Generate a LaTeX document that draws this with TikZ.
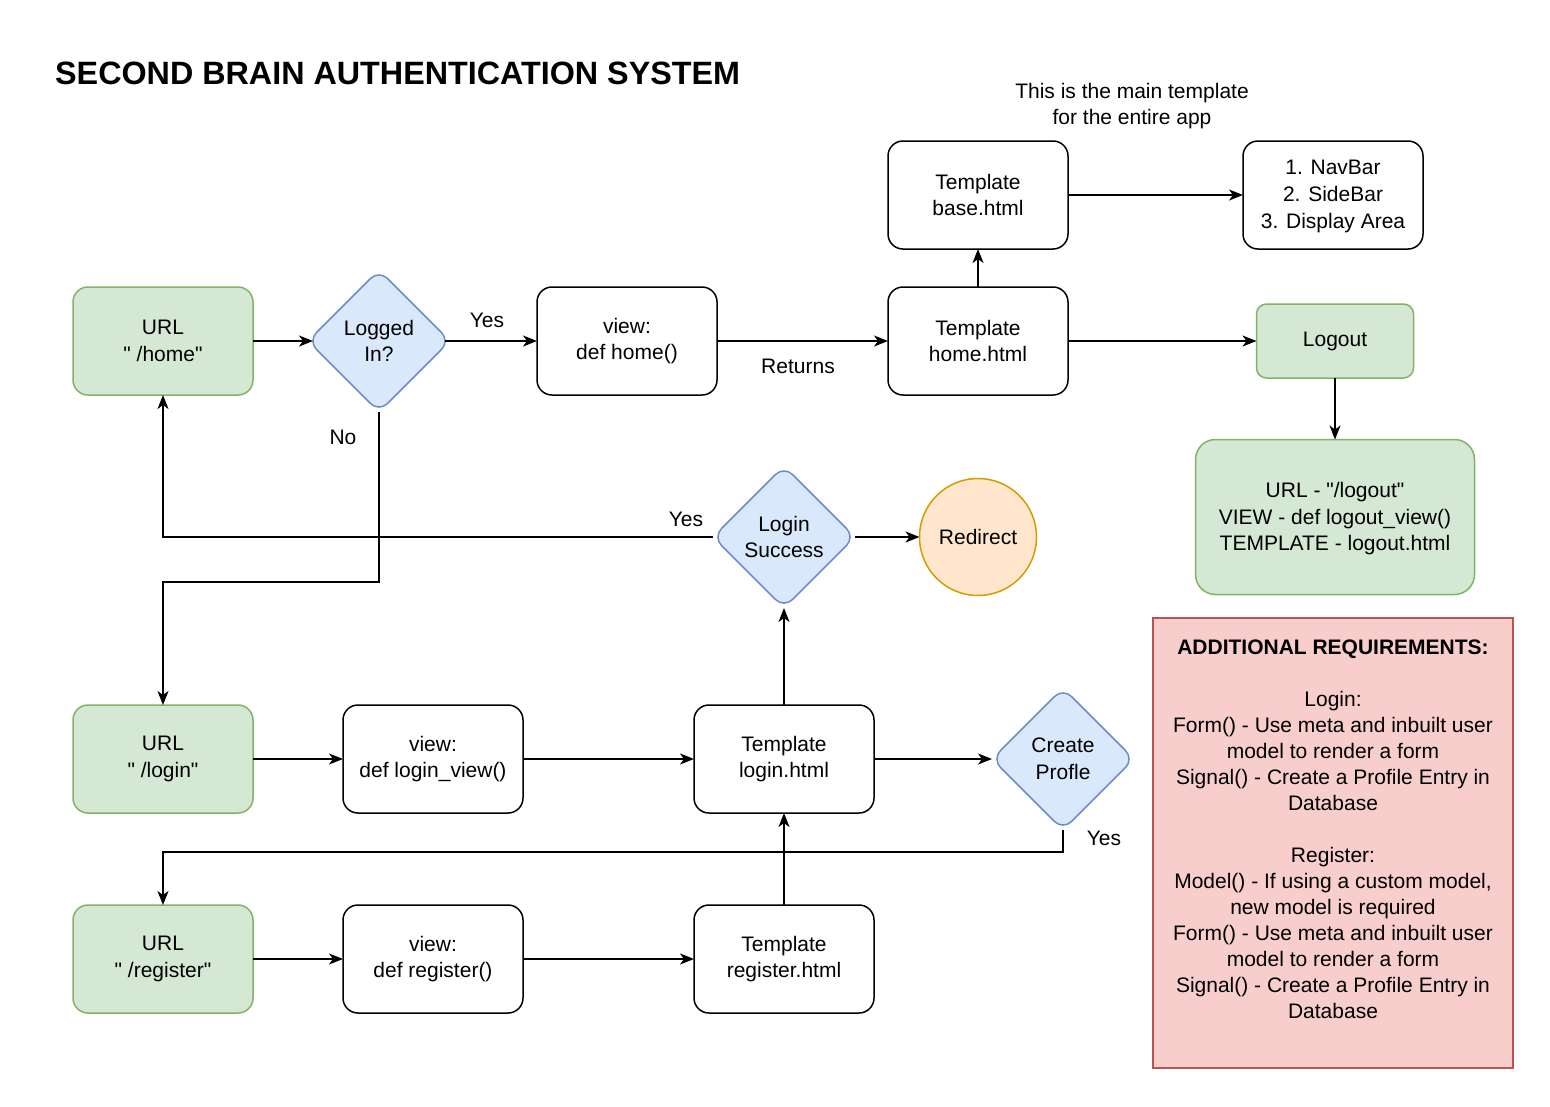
\documentclass[tikz,border=0pt]{standalone}
\usepackage{fontspec}
\setmainfont{Liberation Sans}[Ligatures=TeXOff]
\usetikzlibrary{shapes.geometric,arrows.meta}
\definecolor{gfill}{HTML}{D5E8D4}
\definecolor{gstroke}{HTML}{82B366}
\definecolor{bfill}{HTML}{DAE8FC}
\definecolor{bstroke}{HTML}{6C8EBF}
\definecolor{ofill}{HTML}{FFE6CC}
\definecolor{ostroke}{HTML}{D79B00}
\definecolor{rfill}{HTML}{F8CECC}
\definecolor{rstroke}{HTML}{B85450}
\begin{document}
\begin{tikzpicture}[x=1pt,y=-1pt,
  font=\fontsize{21}{26.5}\selectfont,
  box/.style={draw, rounded corners=15pt, line width=1.5pt, minimum width=180pt, minimum height=108pt, align=center, inner sep=0pt, outer sep=0pt},
  urlbox/.style={box, fill=gfill, draw=gstroke},
  dec/.style={diamond, aspect=1, draw=bstroke, fill=bfill, line width=1.5pt, rounded corners=12pt, minimum width=142pt, minimum height=142pt, inner sep=0pt, outer sep=0pt, align=center},
  arr/.style={line width=1.5pt, -{Stealth[length=14pt,width=11pt,inset=4pt]}},
  ln/.style={line width=1.5pt},
  lbl/.style={inner sep=0pt, align=center}]
\fill[white] (0,0) rectangle (1550,1106);
\useasboundingbox (0,0) rectangle (1550,1106);

\node[anchor=base west, inner sep=0pt, font=\fontsize{32.3}{38}\selectfont\bfseries] (title) at (55,84) {SECOND BRAIN AUTHENTICATION SYSTEM};

% top row
\node[urlbox] (urlhome) at (163,341) {URL\\" /home"};
\node[dec] (logged) at (379,341) {Logged\\In?};
\node[box] (viewhome) at (627,341) {view:\\def home()};
\node[box] (thome) at (978,341) {Template\\home.html};
\node[box] (tbase) at (978,195) {Template\\base.html};
\node[box] (nav) at (1333,195) {};
\node[lbl, font=\fontsize{21}{27}\selectfont] (navtext) at (1333,196) {1. NavBar\\2. SideBar\\3. Display Area};
\node[lbl] (note) at (1132,106) {This is the main template\\for the entire app};
\node[box, fill=gfill, draw=gstroke, minimum width=157pt, minimum height=74pt, rounded corners=10pt] (logout) at (1335,341) {Logout};
\node[box, fill=gfill, draw=gstroke, minimum width=279pt, minimum height=155pt, rounded corners=20pt] (urllogout) at (1335,517) {};
\node[lbl] (urllogouttext) at (1335,519) {URL - "/logout"\\VIEW - def logout\_view()\\TEMPLATE - logout.html};

% middle
\node[dec] (ls) at (784,537) {Login\\Success};
\node[circle, draw=ostroke, fill=ofill, line width=1.5pt, minimum size=117pt, inner sep=0pt, outer sep=0pt] (redirect) at (978,537) {Redirect};

\node[urlbox] (urllogin) at (163,759) {URL\\" /login"};
\node[box] (viewlogin) at (433,759) {view:\\def login\_view()};
\node[box] (tlogin) at (784,759) {Template\\login.html};
\node[dec] (cp) at (1063,759) {Create\\Profle};

\node[urlbox] (urlreg) at (163,959) {URL\\" /register"};
\node[box] (viewreg) at (433,959) {view:\\def register()};
\node[box] (treg) at (784,959) {Template\\register.html};

% requirements
\node[draw=rstroke, fill=rfill, line width=1.5pt, minimum width=360pt, minimum height=450pt, inner sep=0pt] (req) at (1333,843) {};
\node[lbl, font=\fontsize{21}{26}\selectfont] (reqtext) at (1333,829) {\textbf{ADDITIONAL REQUIREMENTS:}\\[26pt]Login:\\Form() - Use meta and inbuilt user\\model to render a form\\Signal() - Create a Profile Entry in\\Database\\[26pt]Register:\\Model() - If using a custom model,\\new model is required\\Form() - Use meta and inbuilt user\\model to render a form\\Signal() - Create a Profile Entry in\\Database};

% connectors
\draw[arr] (urlhome.east) -- ([xshift=5pt]logged.west);
\draw[arr] ([xshift=-5pt]logged.east) -- (viewhome.west);
\node[lbl] (yes1) at (487,320) {Yes};
\draw[arr] (viewhome.east) -- (thome.west);
\node[lbl] (returns) at (798,366) {Returns};
\draw[arr] (thome.north) -- (tbase.south);
\draw[arr] (tbase.east) -- (nav.west);
\draw[arr] (thome.east) -- (logout.west);
\draw[arr] (logout.south) -- (urllogout.north);

\draw[arr] (logged.south) -- ++(0,170) -| (urllogin.north);
\node[lbl] (no) at (343,437) {No};
\draw[arr] (ls.west) -| (urlhome.south);
\node[lbl] (yes2) at (686,519) {Yes};
\draw[arr] (ls.east) -- (redirect.west);

\draw[arr] (urllogin.east) -- (viewlogin.west);
\draw[arr] (viewlogin.east) -- (tlogin.west);
\draw[arr] (tlogin.north) -- (ls.south);
\draw[arr] (tlogin.east) -- (cp.west);
\draw[arr] (cp.south) -- ++(0,22) -| (urlreg.north);
\node[lbl] (yes3) at (1104,838) {Yes};

\draw[arr] (urlreg.east) -- (viewreg.west);
\draw[arr] (viewreg.east) -- (treg.west);
\draw[arr] (treg.north) -- (tlogin.south);
\end{tikzpicture}
\end{document}
